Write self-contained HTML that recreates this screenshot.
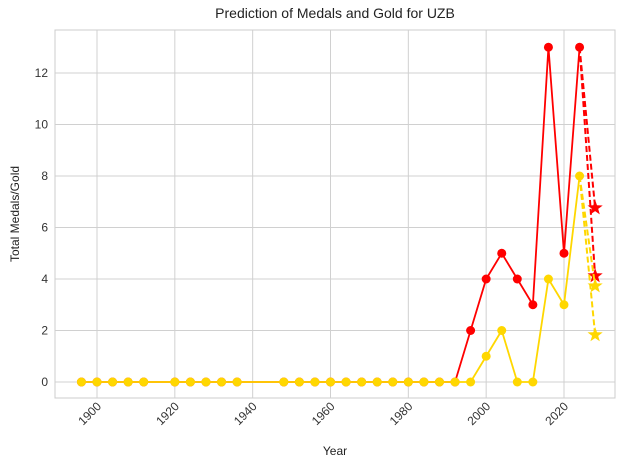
<!DOCTYPE html>
<html><head><meta charset="utf-8"><style>
body{margin:0;background:#fff;font-family:"Liberation Sans","DejaVu Sans",sans-serif}
</style></head><body>
<svg id="chart" width="630" height="470" xmlns="http://www.w3.org/2000/svg" font-family="Liberation Sans, DejaVu Sans, sans-serif">
<text x="335" y="18" text-anchor="middle" font-size="14" fill="#222">Prediction of Medals and Gold for UZB</text>
<text x="335" y="455" text-anchor="middle" font-size="12" fill="#222">Year</text>
<text x="0" y="0" transform="translate(19,214) rotate(-90)" text-anchor="middle" font-size="12" fill="#222">Total Medals/Gold</text>
<g id="grid"></g><g id="marks"></g>
</svg>
<script>
const years=[1896,1900,1904,1908,1912,1920,1924,1928,1932,1936,1948,1952,1956,1960,1964,1968,1972,1976,1980,1984,1988,1992,1996,2000,2004,2008,2012,2016,2020,2024];
const totalMedals=[0,0,0,0,0,0,0,0,0,0,0,0,0,0,0,0,0,0,0,0,0,0,2,4,5,4,3,13,5,13];
const goldMedals=[0,0,0,0,0,0,0,0,0,0,0,0,0,0,0,0,0,0,0,0,0,0,0,1,2,0,0,4,3,8];
const predYear=2028;
const predTotal=[6.76,4.12];
const predGold=[3.73,1.83];
const xTicks=[1900,1920,1940,1960,1980,2000,2020];
const yTicks=[0,2,4,6,8,10,12];
const L=55,R=615,T=30,B=398;
const X=y=>97+(y-1900)*(467/120);
const Y=v=>382-v*25.75;
const NS="http://www.w3.org/2000/svg";
const grid=document.getElementById('grid'),marks=document.getElementById('marks');
function mk(p,tag,at){const e=document.createElementNS(NS,tag);for(const k in at)e.setAttribute(k,at[k]);p.appendChild(e);return e;}
let fr=mk(grid,'rect',{x:L,y:T,width:R-L,height:B-T,fill:'#fff',stroke:'#ccc','stroke-width':1});


xTicks.forEach(t=>{const x=X(t);
 let g=mk(grid,'line',{x1:x,x2:x,y1:T,y2:B,stroke:'#d0d0d0','stroke-width':1});
 
 
 let tx=mk(grid,'text',{x:x+5,y:B+9,'font-size':12,fill:'#333','text-anchor':'end',transform:`rotate(-45 ${x+5} ${B+9})`});
 tx.textContent=t;
 
 });
yTicks.forEach(t=>{const y=Y(t);
 let g=mk(grid,'line',{x1:L,x2:R,y1:y,y2:y,stroke:'#d0d0d0','stroke-width':1});
 
 
 let tx=mk(grid,'text',{x:L-7,y:y+4,'font-size':12,fill:'#333','text-anchor':'end'});
 tx.textContent=t;
 
 });
function star(cx,cy,r){let p=[];for(let i=0;i<10;i++){const a=-Math.PI/2+i*Math.PI/5,rr=i%2?r*0.4:r;p.push((cx+rr*Math.cos(a)).toFixed(1)+','+(cy+rr*Math.sin(a)).toFixed(1));}return p.join(' ');}
function series(vals,preds,color,name){
 const last=years.length-1;
 preds.forEach(v=>{let l=mk(marks,'line',{x1:X(years[last]),y1:Y(vals[last]),x2:X(predYear),y2:Y(v),stroke:color,'stroke-width':2,'stroke-dasharray':'6,3'});
  
  });
 let pl=mk(marks,'polyline',{points:years.map((y,i)=>X(y)+','+Y(vals[i])).join(' '),fill:'none',stroke:color,'stroke-width':1.8});
 
 
 years.forEach((y,i)=>{let c=mk(marks,'circle',{cx:X(y),cy:Y(vals[i]),r:4.5,fill:color});
  
  });
 preds.forEach(v=>{let s=mk(marks,'polygon',{points:star(X(predYear),Y(v),8),fill:color});
  
  });
}
series(totalMedals,predTotal,'#ff0000','total-medals');
series(goldMedals,predGold,'#ffd700','gold-medals');
</script>
</body></html>
